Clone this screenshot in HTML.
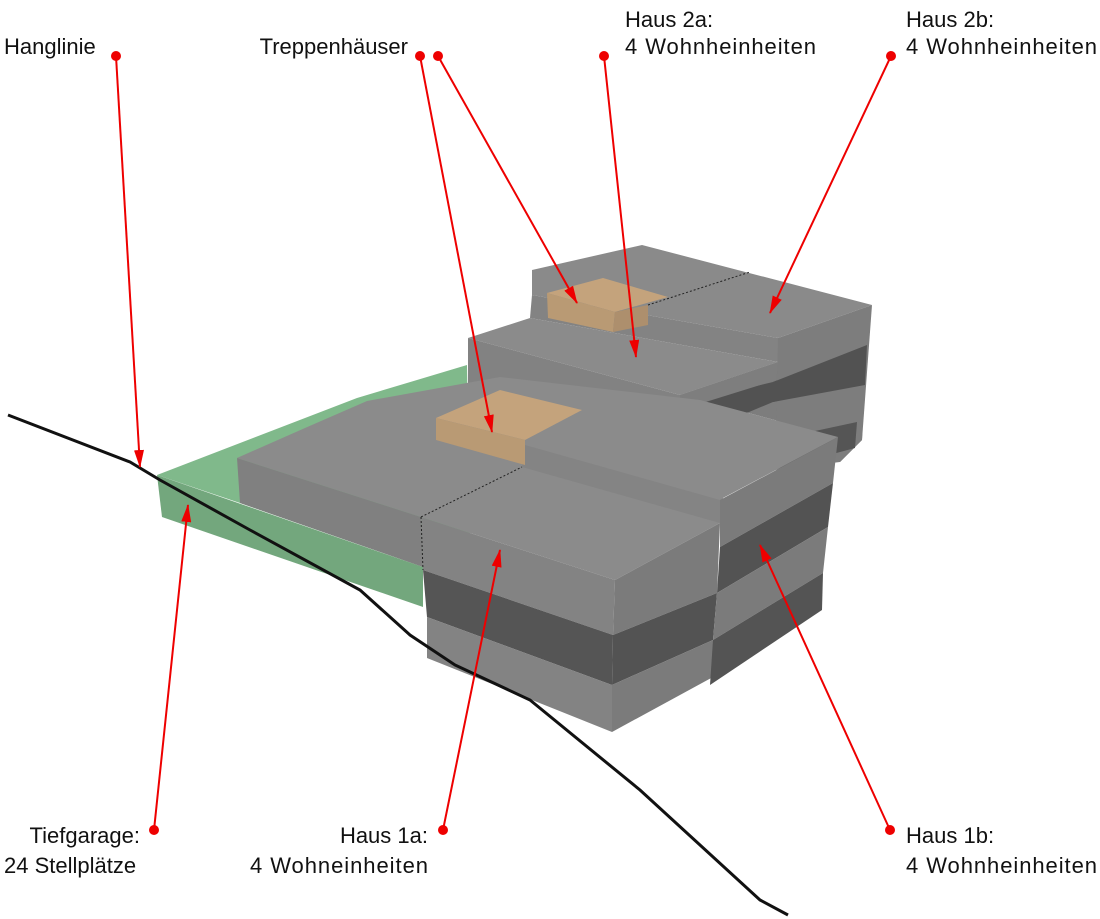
<!DOCTYPE html>
<html><head><meta charset="utf-8"><style>
html,body{margin:0;padding:0;background:#fff;}
svg{display:block;}
text{font-family:"Liberation Sans",sans-serif;font-size:22px;fill:#111;}
</style></head><body>
<svg width="1100" height="919" viewBox="0 0 1100 919" xmlns="http://www.w3.org/2000/svg">
<defs>
<marker id="ah" viewBox="0 0 18 10" refX="17" refY="5" markerWidth="18" markerHeight="10" orient="auto" markerUnits="userSpaceOnUse"><path d="M0,0 L18,5 L0,10 z" fill="#e00"/></marker>
</defs>
<!-- green slab -->
<polygon points="157,475 357,398 467,365 470,540 423,567 240,503" fill="#80b98b"/>
<polygon points="157,475 162,517 423,607 423,567" fill="#73a77d"/>
<!-- Haus 2 lower body behind Haus 1 -->
<polygon points="680,395 778,362 866,340 862,440 840,462 838,437 700,400" fill="#7d7d7d"/>
<polygon points="690,402 773,382 867,345 865,385 773,402 730,420" fill="#525252"/>
<!-- Haus 2 upper -->
<polygon points="532,270 642,245 872,305 778,338 532,295" fill="#8a8a8a"/>
<polygon points="532,295 778,338 778,362 530,318" fill="#838383"/>
<polygon points="778,338 872,305 862,440 840,462 775,470" fill="#7d7d7d"/>
<polygon points="773,382 867,345 865,385 773,402" fill="#525252"/>
<polygon points="773,440 857,422 855,448 773,470" fill="#555"/>
<!-- orange 2 -->
<polygon points="547,293 603,278 668,297 615,312" fill="#c4a37c"/>
<polygon points="547,293 548,318 613,332 615,312" fill="#b99a74"/>
<polygon points="615,312 648,305 648,325 613,332" fill="#ad8f6d"/>
<!-- Haus 2a -->
<polygon points="468,338 530,318 778,362 680,395" fill="#8b8b8b"/>
<polygon points="468,338 680,395 680,410 468,390" fill="#828282"/>
<polygon points="680,395 778,362 776,380 680,410" fill="#7e7e7e"/>
<!-- Haus 1 top -->
<polygon points="237,458 305,428 367,401 500,377 700,400 838,437 723,498 720,523 615,580 421,517" fill="#8b8b8b"/>
<polygon points="525,445 720,500 720,523 522,467" fill="#848484"/>
<!-- orange stair 1 -->
<polygon points="436,418 500,390 582,410 525,440" fill="#c4a37c"/>
<polygon points="436,418 436,440 525,465 525,440" fill="#b99a74"/>
<!-- left block front face -->
<polygon points="237,458 421,517 423,567 240,503" fill="#808080"/>
<!-- front block front face -->
<polygon points="421,517 615,580 613,635 423,570" fill="#838383"/>
<polygon points="423,570 613,635 612,685 427,617" fill="#555"/>
<polygon points="427,617 612,685 612,732 427,658" fill="#838383"/>
<!-- 1a right face -->
<polygon points="615,580 720,523 717,593 613,635" fill="#7b7b7b"/>
<polygon points="613,635 717,593 713,640 612,685" fill="#535353"/>
<polygon points="612,685 713,640 713,677 612,732" fill="#7b7b7b"/>
<!-- 1b right face -->
<polygon points="720,500 838,437 833,483 720,547" fill="#7b7b7b"/>
<polygon points="720,547 833,483 828,527 717,593" fill="#535353"/>
<polygon points="717,593 828,527 823,573 713,640" fill="#7b7b7b"/>
<polygon points="713,640 823,573 822,610 710,685" fill="#545454"/>
<!-- dotted separations -->
<polyline points="421,517 522,467" fill="none" stroke="#222" stroke-width="1" stroke-dasharray="2,2"/>
<polyline points="421,517 423,570" fill="none" stroke="#222" stroke-width="1" stroke-dasharray="2,2"/>
<polyline points="648,305 750,272" fill="none" stroke="#222" stroke-width="1" stroke-dasharray="2,2"/>
<!-- terrain line -->
<polyline points="8,415 130,462 160,480 250,530 360,590 410,635 455,665 530,700 640,790 760,900 788,915" fill="none" stroke="#111" stroke-width="3"/>
<!-- red arrows -->
<g stroke="#e00" stroke-width="2" fill="none" marker-end="url(#ah)">
<line x1="116" y1="56" x2="140" y2="467"/>
<line x1="420" y1="56" x2="492" y2="432"/>
<line x1="438" y1="56" x2="577" y2="303"/>
<line x1="604" y1="56" x2="636" y2="357"/>
<line x1="891" y1="56" x2="770" y2="313"/>
<line x1="154" y1="830" x2="188" y2="505"/>
<line x1="443" y1="830" x2="500" y2="550"/>
<line x1="890" y1="830" x2="760" y2="545"/>
</g>
<g fill="#e00">
<circle cx="116" cy="56" r="5"/><circle cx="420" cy="56" r="5"/><circle cx="438" cy="56" r="5"/>
<circle cx="604" cy="56" r="5"/><circle cx="891" cy="56" r="5"/><circle cx="154" cy="830" r="5"/>
<circle cx="443" cy="830" r="5"/><circle cx="890" cy="830" r="5"/>
</g>
<!-- labels -->
<text x="4" y="54">Hanglinie</text>
<text x="408" y="54" text-anchor="end">Treppenhäuser</text>
<text x="625" y="27">Haus 2a:</text>
<text x="625" y="54" textLength="191">4 Wohnheinheiten</text>
<text x="906" y="27">Haus 2b:</text>
<text x="906" y="54" textLength="191">4 Wohnheinheiten</text>
<text x="140" y="843" text-anchor="end">Tiefgarage:</text>
<text x="4" y="873">24 Stellplätze</text>
<text x="428" y="843" text-anchor="end">Haus 1a:</text>
<text x="250" y="873" textLength="178">4 Wohneinheiten</text>
<text x="906" y="843">Haus 1b:</text>
<text x="906" y="873" textLength="191">4 Wohnheinheiten</text>
</svg>
</body></html>
